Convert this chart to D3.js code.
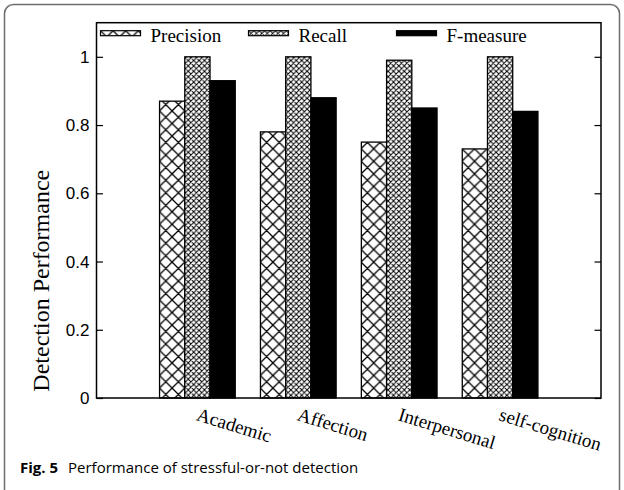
<!DOCTYPE html>
<meta charset="utf-8">
<script src="https://d3js.org/d3.v7.min.js"></script>
<style>
  body { margin: 0; background: #fff; }
</style>
<div id="chart"></div>
<script>
    // data
    var categories = ["Academic", "Affection", "Interpersonal", "self-cognition"];
    var precision = [0.87, 0.78, 0.75, 0.73];
    var recall = [1.0, 1.0, 0.99, 1.0];
    var fmeasure = [0.93, 0.88, 0.85, 0.84];
    var seriesNames = ["Precision", "Recall", "F-measure"];
    var yTicks = [0, 0.2, 0.4, 0.6, 0.8, 1];

    var W = 624, H = 490;
    var margin = { top: 22.7, right: 23, bottom: 92, left: 96.5 },
        width = W - margin.left - margin.right,
        height = H - margin.top - margin.bottom;

    var svg = d3.select("#chart")
        .append("svg")
        .attr("width", W)
        .attr("height", H);

    // hatch patterns
    var defs = svg.append("defs");
    function hatch(id, size, sw) {
        var p = defs.append("pattern")
            .attr("id", id)
            .attr("patternUnits", "userSpaceOnUse")
            .attr("width", size)
            .attr("height", size);
        p.append("rect").attr("width", size).attr("height", size).attr("fill", "#fff");
        p.append("path")
            .attr("d", "M0,0L" + size + "," + size + "M" + size + ",0L0," + size +
                "M-1,1L1,-1M" + (size - 1) + "," + (size + 1) + "L" + (size + 1) + "," + (size - 1) +
                "M-1," + (size - 1) + "L1," + (size + 1) + "M" + (size - 1) + ",-1L" + (size + 1) + ",1")
            .attr("stroke", "#000")
            .attr("stroke-width", sw)
            .attr("fill", "none");
    }
    hatch("coarse", 12.6, 1.3);
    hatch("fine", 5.4, 1.0);
    var fills = ["url(#coarse)", "url(#fine)", "#000"];

    // outer figure frame
    svg.append("rect")
        .attr("x", 4.5).attr("y", 4.5)
        .attr("width", 615).attr("height", 495)
        .attr("rx", 9)
        .attr("fill", "none")
        .attr("stroke", "#6d6d6d")
        .attr("stroke-width", 1.5);

    var g = svg.append("g")
        .attr("transform", "translate(" + margin.left + "," + margin.top + ")");

    var x = d3.scaleLinear().domain([-1, 4]).range([0, width]);
    var y = d3.scaleLinear().domain([0, 1.1]).range([height, 0]);
    var barW = x(0.25) - x(0);

    // y axis ticks (inward) on left and right
    var yAxisL = d3.axisRight(y).tickValues(yTicks).tickSize(6.5).tickFormat("");
    var yAxisR = d3.axisLeft(y).tickValues(yTicks).tickSize(6.5).tickFormat("");
    g.append("g").attr("class", "tk").call(yAxisL);
    g.append("g").attr("class", "tk").attr("transform", "translate(" + width + ",0)").call(yAxisR);
    g.selectAll(".tk .domain").remove();
    g.selectAll(".tk line").attr("stroke", "#000").attr("stroke-width", 1.2);

    // tick labels
    g.selectAll(".ylab")
        .data(yTicks)
        .enter()
        .append("text")
        .attr("x", -7)
        .attr("y", function (d) { return y(d); })
        .attr("dy", "0.36em")
        .attr("text-anchor", "end")
        .style("font-family", "'Liberation Sans', Arial, sans-serif")
        .style("font-size", "17px")
        .text(function (d) { return d; });

    // bars
    var data = [];
    categories.forEach(function (c, i) {
        [precision[i], recall[i], fmeasure[i]].forEach(function (v, j) {
            data.push({ cat: i, s: j, v: v });
        });
    });
    g.selectAll(".bar")
        .data(data)
        .enter()
        .append("rect")
        .attr("x", function (d) { return x(d.cat + (d.s - 1.5) * 0.25); })
        .attr("y", function (d) { return y(d.v); })
        .attr("width", barW)
        .attr("height", function (d) { return height - y(d.v); })
        .attr("fill", function (d) { return fills[d.s]; })
        .attr("stroke", "#000")
        .attr("stroke-width", 1.3);

    // plot border
    g.append("rect")
        .attr("width", width).attr("height", height)
        .attr("fill", "none")
        .attr("stroke", "#000")
        .attr("stroke-width", 1.5);

    // category labels (rotated)
    g.selectAll(".xlab")
        .data(categories)
        .enter()
        .append("text")
        .attr("transform", function (d, i) {
            return "translate(" + (x(i) - 2) + "," + (height + 22) + ") rotate(17)";
        })
        .style("font-family", "'Liberation Serif', 'Times New Roman', serif")
        .style("font-size", "19px")
        .text(function (d) { return d; });

    // y label
    g.append("text")
        .attr("transform", "translate(" + (-48) + "," + (258) + ") rotate(-90)")
        .attr("text-anchor", "middle")
        .style("font-family", "'Liberation Serif', 'Times New Roman', serif")
        .style("font-size", "24px")
        .text("Detection Performance");

    // legend
    var legX = [4, 152, 300];
    var leg = g.selectAll(".leg")
        .data(seriesNames)
        .enter()
        .append("g")
        .attr("transform", function (d, i) { return "translate(" + legX[i] + ",8)"; });
    leg.append("rect")
        .attr("width", 40).attr("height", 5)
        .attr("fill", function (d, i) { return fills[i]; })
        .attr("stroke", "#000")
        .attr("stroke-width", 1.2);
    leg.append("text")
        .attr("x", 50)
        .attr("y", 11)
        .style("font-family", "'Liberation Serif', 'Times New Roman', serif")
        .style("font-size", "19px")
        .text(function (d) { return d; });

    // caption
    var cap = svg.append("text")
        .attr("x", 20)
        .attr("y", 473)
        .style("font-family", "'Open Sans', 'Noto Sans', sans-serif")
        .style("font-size", "15px");
    cap.append("tspan").style("font-weight", "bold").text("Fig. 5");
    cap.append("tspan").attr("dx", 10).text("Performance of stressful-or-not detection");
</script>
